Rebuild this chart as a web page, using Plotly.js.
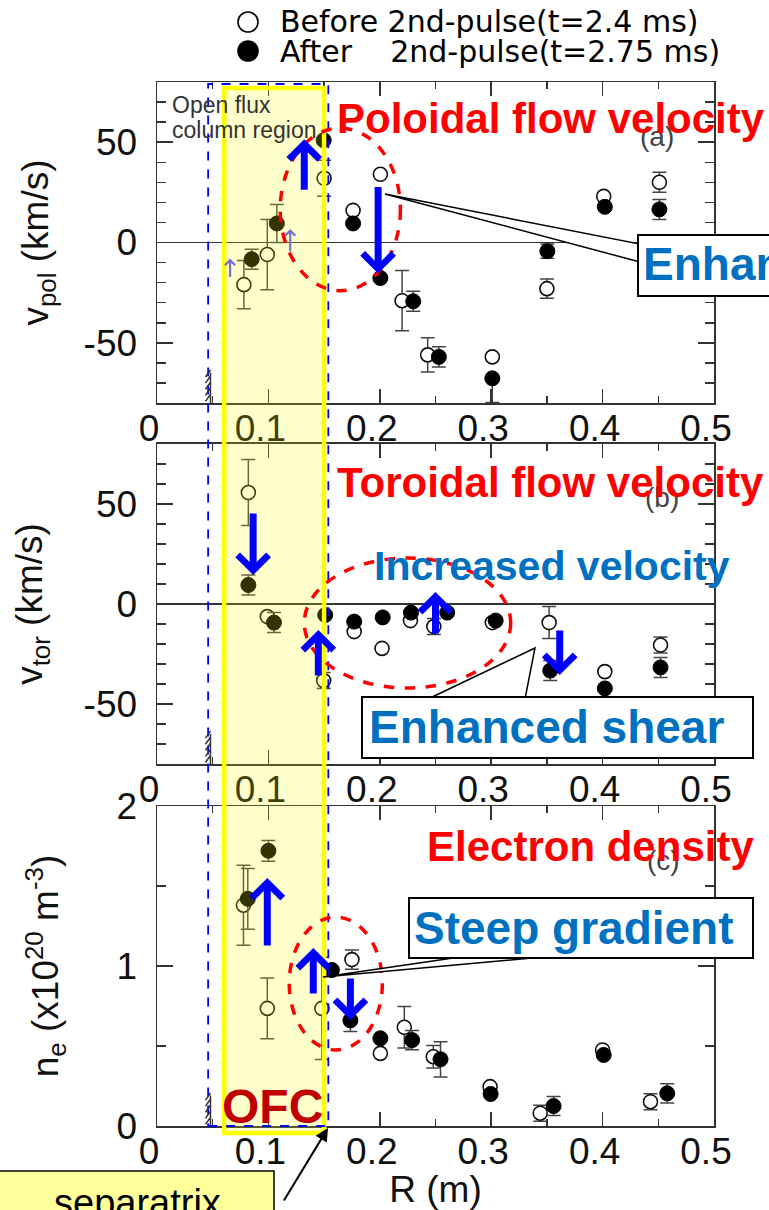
<!DOCTYPE html>
<html><head><meta charset="utf-8">
<script src="https://cdn.plot.ly/plotly-3.0.1.min.js"></script>
<style>html,body{margin:0;padding:0;background:#fff}#chart{width:769px;height:1210px}</style>
</head><body><div id="chart"></div>
<script>
// ---------------- data ----------------
// (a) poloidal flow velocity v_pol (km/s)
const vpolBeforeR   = [0.078, 0.099, 0.150, 0.176, 0.2005, 0.220, 0.243, 0.301, 0.350, 0.401, 0.451];
const vpolBefore    = [-21, -6, 32, 16, 34, -29, -56, -57, -23, 23, 30];
const vpolBeforeErr = [12, 17.5, 9, 0, 0, 15, 8.5, 0, 4.8, 0, 5];
const vpolAfterR    = [0.085, 0.1076, 0.1496, 0.176, 0.2005, 0.230, 0.253, 0.301, 0.3504, 0.402, 0.451];
const vpolAfter     = [-8.3, 9.5, 51, 9.5, -17.7, -29.3, -57, -67.7, -4.3, 17.8, 16.5];
const vpolAfterErrPlus  = [5, 9.5, 0, 0, 0, 5, 5, 0, 3.5, 0, 5];
const vpolAfterErrMinus = [5, 9.5, 0, 0, 0, 5, 5, 12, 3.5, 0, 5];
// (b) toroidal flow velocity v_tor (km/s)
const vtorBeforeR   = [0.082, 0.099, 0.1496, 0.177, 0.202, 0.2275, 0.2485, 0.301, 0.352, 0.402, 0.452];
const vtorBefore    = [55.7, -6.3, -38.3, -13.8, -22.2, -8.3, -11.3, -9.3, -9.3, -33.8, -20.5];
const vtorBeforeErr = [16.5, 0, 4, 0, 0, 0, 4, 0, 8, 0, 4];
const vtorAfterR    = [0.082, 0.105, 0.151, 0.177, 0.2026, 0.228, 0.2605, 0.304, 0.353, 0.402, 0.452];
const vtorAfter     = [9.5, -9.3, -5.5, -8.8, -6.7, -4.3, -4.3, -8.3, -33.3, -42.2, -31.7];
const vtorAfterErr  = [5, 5, 0, 0, 0, 0, 0, 0, 5, 0, 5];
// (c) electron density n_e (10^20 m^-3)
const neBeforeR     = [0.0776, 0.099, 0.148, 0.175, 0.2005, 0.222, 0.248, 0.299, 0.344, 0.400, 0.443];
const neBefore      = [1.38, 0.735, 0.735, 1.04, 0.454, 0.617, 0.433, 0.246, 0.08, 0.475, 0.152];
const neBeforeErr   = [0.25, 0.19, 0.32, 0.06, 0, 0.13, 0.07, 0, 0.05, 0, 0.05];
const neAfterR      = [0.0815, 0.100, 0.157, 0.1736, 0.2005, 0.229, 0.2545, 0.2995, 0.356, 0.401, 0.458];
const neAfter       = [1.42, 1.72, 0.975, 0.66, 0.548, 0.537, 0.417, 0.2, 0.125, 0.444, 0.204];
const neAfterErr    = [0.19, 0.065, 0, 0.07, 0, 0.06, 0.11, 0, 0.06, 0, 0.06];
// ticks / labels
const xTickVals = [0, 0.1, 0.2, 0.3, 0.4, 0.5];
const xTickText = ['0', '0.1', '0.2', '0.3', '0.4', '0.5'];
const vTickVals = [-50, 0, 50];
const vTickText = ['-50', '0', '50'];
const nTickVals = [0, 1, 2];
const nTickText = ['0', '1', '2'];
const legendLabels = ['Before 2nd-pulse(t=2.4 ms)', 'After\u00a0\u00a0\u00a0\u00a02nd-pulse(t=2.75 ms)'];

// ---------------- layout helpers ----------------
const W = 769, H = 1210, L = 157, RR = 714, T = 82, B = 1126;
const pX = px => (px - L) / (RR - L);
const pY = py => (B - py) / (B - T);
const F = 'Liberation Sans, Arial, sans-serif';

function openTrace(x, y, err, xa, ya) {
  return {type: 'scatter', mode: 'markers', x: x, y: y, xaxis: xa, yaxis: ya, showlegend: false,
    marker: {symbol: 'circle', size: 14, color: '#ffffff', line: {color: '#111', width: 1.6}},
    error_y: {type: 'data', array: err, visible: true, color: '#444', thickness: 1.5, width: 7}};
}
function fillTrace(x, y, errP, errM, xa, ya) {
  return {type: 'scatter', mode: 'markers', x: x, y: y, xaxis: xa, yaxis: ya, showlegend: false,
    marker: {symbol: 'circle', size: 15, color: '#000', line: {color: '#000', width: 1}},
    error_y: {type: 'data', symmetric: false, array: errP, arrayminus: errM, visible: true, color: '#444', thickness: 1.5, width: 7}};
}
const data = [
  openTrace(vpolBeforeR, vpolBefore, vpolBeforeErr, 'x', 'y'),
  fillTrace(vpolAfterR, vpolAfter, vpolAfterErrPlus, vpolAfterErrMinus, 'x', 'y'),
  openTrace(vtorBeforeR, vtorBefore, vtorBeforeErr, 'x2', 'y2'),
  fillTrace(vtorAfterR, vtorAfter, vtorAfterErr, vtorAfterErr, 'x2', 'y2'),
  openTrace(neBeforeR, neBefore, neBeforeErr, 'x3', 'y3'),
  fillTrace(neAfterR, neAfter, neAfterErr, neAfterErr, 'x3', 'y3')
];

const axLine = {showline: true, linecolor: '#333', linewidth: 1.5, mirror: 'allticks', ticks: 'inside',
  tickwidth: 1.5, tickcolor: '#333', showgrid: false, zeroline: false,
  tickfont: {family: F, size: 37, color: '#111'}};
function xAx(anchor, title) {
  const a = Object.assign({}, axLine, {anchor: anchor, domain: [0, 1], range: [0, 0.5],
    tickmode: 'array', tickvals: xTickVals, ticktext: xTickText, ticklen: 14,
    ticklabelshift: -8, ticklabelstandoff: -8,
    minor: {ticks: 'inside', ticklen: 7, tickmode: 'linear', tick0: 0, dtick: 0.05, tickcolor: '#333', tickwidth: 1.5}});
  if (title) a.title = {text: title, font: {family: F, size: 37, color: '#111'}, standoff: 16};
  return a;
}
function yAx(anchor, dom, range, tv, tt, mdt, title, standoff, zl) {
  return Object.assign({}, axLine, {anchor: anchor, domain: dom, range: range,
    tickmode: 'array', tickvals: tv, ticktext: tt, ticklen: 16, ticklabelstandoff: 11,
    zeroline: zl, zerolinecolor: '#333', zerolinewidth: 1.5,
    minor: {ticks: 'inside', ticklen: 9, tickmode: 'linear', tick0: 0, dtick: mdt, tickcolor: '#333', tickwidth: 1.5},
    title: {text: title, font: {family: F, size: 37, color: '#111'}, standoff: standoff}});
}

// hatch (wall) marks drawn in each panel near R=0.048
function hatch(yref) {
  let p = 'M0.048,0 L0.048,0.095';
  for (let i = 0; i < 5; i++) { const y = 0.005 + i * 0.019; p += ' M0.0435,' + y.toFixed(3) + ' L0.048,' + (y + 0.022).toFixed(3); }
  return {type: 'path', xref: 'x', yref: yref, path: p, line: {color: '#333', width: 1.5}, layer: 'above'};
}
function pathPx(pts) {
  return pts.map((q, i) => (i ? 'L' : 'M') + pX(q[0]).toFixed(4) + ',' + pY(q[1]).toFixed(4)).join(' ') + ' Z';
}
function rectPx(x0, y0, x1, y1, fill, lw) {
  return {type: 'rect', xref: 'paper', yref: 'paper', x0: pX(x0), x1: pX(x1), y0: pY(y1), y1: pY(y0),
    fillcolor: fill, line: {color: '#000', width: lw}, layer: 'above'};
}
function ellipse(xref, yref, x0, x1, y0, y1) {
  return {type: 'circle', xref: xref, yref: yref, x0: x0, x1: x1, y0: y0, y1: y1,
    line: {color: '#FF0000', width: 3.5, dash: 'dash'}, fillcolor: 'rgba(0,0,0,0)', layer: 'above'};
}

const shapes = [
  // open flux column (yellow) region
  {type: 'rect', xref: 'x', yref: 'paper', x0: 0.0603, x1: 0.150, y0: pY(1133), y1: pY(88),
    fillcolor: 'rgba(255,255,0,0.2)', line: {color: '#FFFF00', width: 4.5}, layer: 'above'},
  // blue dashed box
  {type: 'rect', xref: 'x', yref: 'paper', x0: 0.0459, x1: 0.1538, y0: 0, y1: pY(84),
    fillcolor: 'rgba(0,0,0,0)', line: {color: '#0000FF', width: 1.8, dash: 'dash'}, layer: 'above'},
  hatch('y domain'), hatch('y2 domain'), hatch('y3 domain'),
  ellipse('x', 'y', 0.1106, 0.2185, -24, 57),
  ellipse('x2', 'y2', 0.1322, 0.3175, -42, 23),
  ellipse('x3', 'y3', 0.1187, 0.2023, 0.475, 1.306),
  // callouts
  {type: 'path', xref: 'paper', yref: 'paper', path: pathPx([[385, 194], [640, 244], [640, 262]]),
    fillcolor: '#fff', line: {color: '#000', width: 1.5}, layer: 'above'},
  rectPx(638, 235, 1000, 296, '#fff', 2),
  {type: 'path', xref: 'paper', yref: 'paper', path: pathPx([[535, 648], [428, 699], [525, 699]]),
    fillcolor: '#fff', line: {color: '#000', width: 1.5}, layer: 'above'},
  rectPx(362, 697, 753, 758, '#fff', 2),
  {type: 'path', xref: 'paper', yref: 'paper', path: pathPx([[323, 977], [467, 956], [553, 956]]),
    fillcolor: '#fff', line: {color: '#000', width: 1.5}, layer: 'above'},
  rectPx(409, 898, 753, 958, '#fff', 2),
  rectPx(-3, 1171, 274, 1240, '#FFFF99', 1.5),
  // legend symbols
  {type: 'circle', xref: 'paper', yref: 'paper', xsizemode: 'pixel', ysizemode: 'pixel',
    xanchor: pX(248), yanchor: pY(22), x0: -10, x1: 10, y0: -10, y1: 10,
    fillcolor: '#fff', line: {color: '#000', width: 1.6}},
  {type: 'circle', xref: 'paper', yref: 'paper', xsizemode: 'pixel', ysizemode: 'pixel',
    xanchor: pX(248), yanchor: pY(51), x0: -10, x1: 10, y0: -10, y1: 10,
    fillcolor: '#000', line: {color: '#000', width: 1.6}}
];

function txt(text, x, y, size, color, xanchor, family) {
  return {text: text, xref: 'paper', yref: 'paper', x: pX(x), y: pY(y), xanchor: xanchor || 'left', yanchor: 'middle',
    showarrow: false, font: {family: family || F, size: size, color: color}};
}
function arrow(xref, yref, x, y, ay, color, w, size) {
  return {text: '', xref: xref, yref: yref, x: x, y: y, ax: 0, ay: ay, showarrow: true,
    arrowhead: 4, arrowsize: size, arrowwidth: w, arrowcolor: color, standoff: 0};
}
const DV = 'DejaVu Sans, sans-serif';
const annotations = [
  txt(legendLabels[0], 278, 22, 30, '#000', 'left', DV),
  txt(legendLabels[1], 278, 51, 30, '#000', 'left', DV),
  txt('Open flux', 170, 105, 23, '#333'),
  txt('column region', 170, 130, 23, '#333'),
  txt('(a)', 657, 136, 28, '#444', 'center'),
  txt('(b)', 662, 497, 28, '#444', 'center'),
  txt('(c)', 663, 860, 28, '#444', 'center'),
  txt('<b>Poloidal flow velocity</b>', 335, 119, 42, '#FF0000'),
  txt('<b>Toroidal flow velocity</b>', 335, 482, 42, '#FF0000'),
  txt('<b>Electron density</b>', 425, 846, 42, '#FF0000'),
  txt('<b>Increased velocity</b>', 372, 566, 41, '#0070C0'),
  txt('<b>Enhanced shear</b>', 641, 264, 46, '#0070C0'),
  txt('<b>Enhanced shear</b>', 367, 727, 46, '#0070C0'),
  txt('<b>Steep gradient</b>', 412, 928, 46, '#0070C0'),
  txt('<b>OFC</b>', 272, 1106, 48, '#C00000', 'center'),
  txt('separatrix', 137, 1203, 38, '#000', 'center'),
  // blue arrows
  arrow('x', 'y', 0.1322, 51.5, 52, '#0000FF', 7, 0.85),
  arrow('x', 'y', 0.1985, -15.5, -88, '#0000FF', 7, 0.85),
  arrow('x', 'y', 0.0656, -8, 20, '#7373D2', 2.2, 0.9),
  arrow('x', 'y', 0.1196, 6.7, 24, '#7373D2', 2.2, 0.9),
  arrow('x2', 'y2', 0.0863, 14.5, -63, '#0000FF', 7, 0.85),
  arrow('x2', 'y2', 0.1448, -13, 47, '#0000FF', 7, 0.85),
  arrow('x2', 'y2', 0.25, 6, 43, '#0000FF', 7, 0.85),
  arrow('x2', 'y2', 0.3615, -35.5, -46, '#0000FF', 7, 0.85),
  arrow('x3', 'y3', 0.099, 1.55, 69, '#0000FF', 7, 0.85),
  arrow('x3', 'y3', 0.1403, 1.1125, 47, '#0000FF', 7, 0.85),
  arrow('x3', 'y3', 0.1736, 0.6625, -43, '#0000FF', 7, 0.85),
  // separatrix pointer
  {text: '', xref: 'paper', yref: 'paper', x: pX(328), y: pY(1128), ax: -45, ay: 74, showarrow: true,
    arrowhead: 2, arrowsize: 1.3, arrowwidth: 2, arrowcolor: '#000', standoff: 0}
];

const layout = {
  width: W, height: H, margin: {l: L, r: W - RR, t: T, b: H - B, pad: 0},
  paper_bgcolor: '#fff', plot_bgcolor: '#fff', showlegend: false,
  font: {family: F, color: '#111'},
  xaxis: xAx('y'), xaxis2: xAx('y2'), xaxis3: xAx('y3', 'R (m)'),
  yaxis: yAx('x', [0.6925, 1], [-80, 80], vTickVals, vTickText, 10, 'v<sub>pol</sub> (km/s)', 23, true),
  yaxis2: yAx('x2', [0.3467, 0.6533], [-80, 80], vTickVals, vTickText, 10, 'v<sub>tor</sub> (km/s)', 29, true),
  yaxis3: yAx('x3', [0, 0.3065], [0, 2], nTickVals, nTickText, 0.5, 'n<sub>e</sub> (x10<sup>20</sup> m<sup>-3</sup>)', 46, false),
  shapes: shapes, annotations: annotations
};
Plotly.newPlot('chart', data, layout, {displayModeBar: false, staticPlot: true});
</script></body></html>
